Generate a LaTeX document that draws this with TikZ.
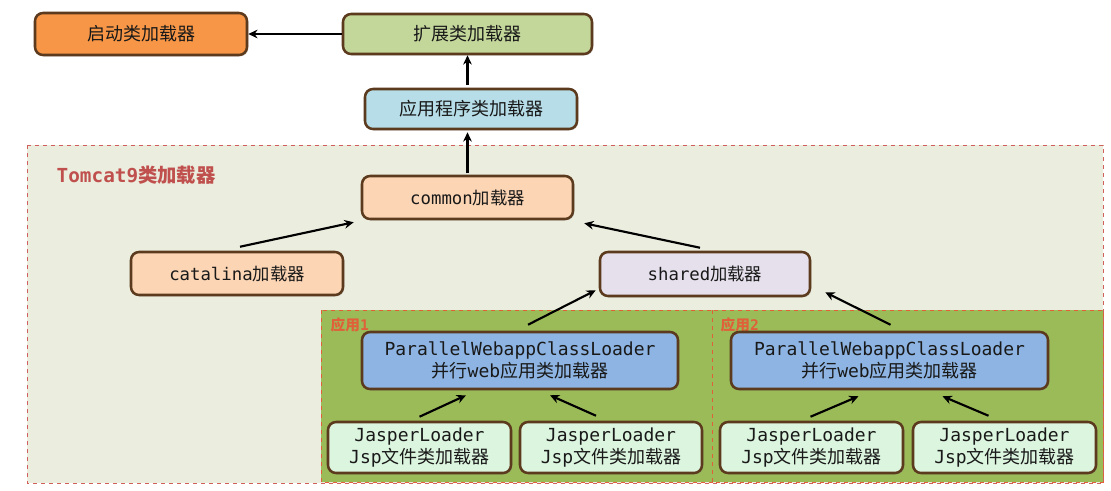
\documentclass[tikz,border=0pt]{standalone}
\usepackage{fontspec}
\setmainfont{Noto Sans CJK SC}
\setmonofont{DejaVu Sans Mono}
\usetikzlibrary{arrows.meta,calc,shadows}
\definecolor{bordbrown}{HTML}{5C3A1E}
\definecolor{cqidong}{HTML}{F79646}
\definecolor{ckuozhan}{HTML}{C4D79B}
\definecolor{cyingyong}{HTML}{B7DEE8}
\definecolor{ctomcat}{HTML}{EBEEDF}
\definecolor{cdash}{HTML}{D0605C}
\definecolor{cpeach}{HTML}{FCD5B4}
\definecolor{cshared}{HTML}{E6E0EC}
\definecolor{capp}{HTML}{9BBB59}
\definecolor{cpar}{HTML}{8DB4E2}
\definecolor{cjasper}{HTML}{DCF5DF}
\definecolor{cred}{HTML}{C0504D}
\definecolor{capplbl}{HTML}{E0603A}
\tikzset{
  box/.style={draw=bordbrown, line width=1.9pt, rounded corners=6pt, align=center,
    inner sep=0pt, text=black!90, font=\fontsize{13.5pt}{16.5pt}\selectfont,
    drop shadow={shadow xshift=1pt, shadow yshift=-1pt, opacity=0.3}},
  arr/.style={line width=1.6pt, -{Stealth[length=7pt,width=6.5pt]}},
  region/.style={draw=cdash, dashed, line width=0.7pt},
}
\begin{document}
\begin{tikzpicture}[x=0.75pt,y=-0.75pt]
\useasboundingbox[fill=white] (0,0) rectangle (1111,490);
% regions
\path[region, fill=ctomcat] (27,145) rectangle (1103,483);
\path[region, draw=capplbl, fill=capp] (321,310) rectangle (712,482);
\path[region, draw=capplbl, fill=capp] (712,310) rectangle (1103,482);
\node[anchor=west, text=cred, font=\fontsize{14.5pt}{17pt}\selectfont\bfseries] (tlabel) at (52,175) {\texttt{\bfseries Tomcat9}类加载器};
\node[anchor=west, text=capplbl, font=\fontsize{11pt}{13pt}\selectfont\bfseries] (a1label) at (326,325) {应用\texttt{\bfseries 1}};
\node[anchor=west, text=capplbl, font=\fontsize{11pt}{13pt}\selectfont\bfseries] (a2label) at (716,325) {应用\texttt{\bfseries 2}};
% top nodes
\node[box, fill=cqidong, minimum width=212*0.75pt, minimum height=42*0.75pt] (qidong) at (141,34) {启动类加载器};
\node[box, fill=ckuozhan, minimum width=249*0.75pt, minimum height=40*0.75pt] (kuozhan) at (467.5,34) {扩展类加载器};
\node[box, fill=cyingyong, minimum width=212*0.75pt, minimum height=40*0.75pt] (yingyong) at (471,109) {应用程序类加载器};
% tomcat nodes
\node[box, fill=cpeach, minimum width=211*0.75pt, minimum height=43*0.75pt, font=\fontsize{13pt}{16pt}\selectfont] (common) at (467.5,197.5) {\texttt{common}加载器};
\node[box, fill=cpeach, minimum width=212*0.75pt, minimum height=43*0.75pt, font=\fontsize{13pt}{16pt}\selectfont] (catalina) at (237,273.5) {\texttt{catalina}加载器};
\node[box, fill=cshared, minimum width=210*0.75pt, minimum height=44*0.75pt, font=\fontsize{13pt}{16pt}\selectfont] (shared) at (705,274) {\texttt{shared}加载器};
\node[box, fill=cpar, minimum width=316*0.75pt, minimum height=57*0.75pt] (par1) at (520,360.5) {\texttt{ParallelWebappClassLoader}\\并行\texttt{web}应用类加载器};
\node[box, fill=cpar, minimum width=317*0.75pt, minimum height=57*0.75pt] (par2) at (889.5,360.5) {\texttt{ParallelWebappClassLoader}\\并行\texttt{web}应用类加载器};
\node[box, fill=cjasper, minimum width=183*0.75pt, minimum height=51*0.75pt] (jas1) at (419.5,447.5) {\texttt{JasperLoader}\\\texttt{Jsp}文件类加载器};
\node[box, fill=cjasper, minimum width=182*0.75pt, minimum height=51*0.75pt] (jas2) at (611,447.5) {\texttt{JasperLoader}\\\texttt{Jsp}文件类加载器};
\node[box, fill=cjasper, minimum width=183*0.75pt, minimum height=51*0.75pt] (jas3) at (811.5,447.5) {\texttt{JasperLoader}\\\texttt{Jsp}文件类加载器};
\node[box, fill=cjasper, minimum width=183*0.75pt, minimum height=51*0.75pt] (jas4) at (1004.5,447.5) {\texttt{JasperLoader}\\\texttt{Jsp}文件类加载器};
% arrows
\draw[arr] (kuozhan.west) -- (qidong.east);
\draw[arr, shorten <=2pt] (kuozhan.south |- yingyong.north) -- (kuozhan.south);
\draw[arr, shorten <=1pt, shorten >=1.5pt] (kuozhan.south |- common.north) -- (kuozhan.south |- yingyong.south);
\draw[arr] ($(catalina.north)+(3,-4)$) -- ($(common.south west)+(-7,2)$);
\draw[arr] ($(shared.north)+(-5,-3)$) -- ($(common.south east)+(10,3)$);
\draw[arr] ($(par1.north)+(8,-6)$) -- ($(shared.south west)+(-3,-7)$);
\draw[arr] ($(par2.north)+(1,-6)$) -- ($(shared.south east)+(14,-5)$);
\draw[arr] ($(jas1.north)+(0,-4)$) -- ($(par1.south)+(-54,5)$);
\draw[arr] ($(jas2.north)+(-15,-5)$) -- ($(par1.south)+(30,5)$);
\draw[arr] ($(jas3.north)+(-1,-4)$) -- ($(par2.south)+(-31,6)$);
\draw[arr] ($(jas4.north)+(-16,-5)$) -- ($(par2.south)+(53,6)$);
\end{tikzpicture}
\end{document}
